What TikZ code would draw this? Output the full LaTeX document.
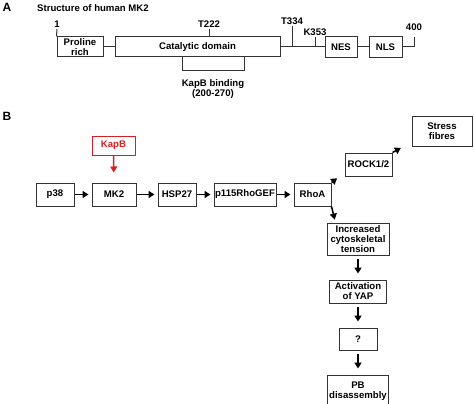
\documentclass[tikz,border=0pt]{standalone}
\usepackage{fontspec}
\setmainfont{Liberation Sans}
\usetikzlibrary{arrows.meta, positioning, calc}
\newcommand{\boxheight}{23pt}
\newcommand{\hgap}{17pt}
\newcommand{\vgap}{24pt}
\definecolor{kapbred}{RGB}{220,30,30}
\tikzstyle{domainbox} = [% protein domain box
  rectangle,
  minimum height=20pt,
  inner sep=0.5pt,
  text centered,
  align=center,
  draw=black!80,
  line width=1pt,
  font=\fontsize{9.6}{9.6}\selectfont\bfseries
  ]
\tikzstyle{stepbox} = [% pathway box
  rectangle,
  minimum height=\boxheight,
  inner sep=0.5pt,
  text centered,
  align=center,
  draw=black!80,
  line width=1pt,
  font=\fontsize{9.6}{10}\selectfont\bfseries
  ]
\tikzstyle{site} = [% residue label
  inner sep=1pt,
  font=\fontsize{9.6}{10.5}\selectfont\bfseries
  ]
\tikzstyle{link} = [% backbone line
  line width=1pt,
  draw=black!80
  ]
\tikzstyle{arrow} = [% arrow format
  line width=1.5pt,
  -{Triangle[length=6pt,width=7pt]},
  shorten >=3pt
  ]

\begin{document}
\begin{tikzpicture}[x=1pt, y=-1pt, node distance=\hgap]
\useasboundingbox (0,0) rectangle (474,404);

%%% Panel A
\node[font=\fontsize{12}{12}\selectfont\bfseries] (labA) at (7,7) {A};
\node[site, anchor=west] (title) at (36,8) {Structure of human MK2};

\node[domainbox, minimum width=46pt] (proline) at (80,47) {Proline\\rich};
\node[domainbox, minimum width=165pt] (catalytic) at (197.5,47) {Catalytic domain};
\node[domainbox, minimum width=32pt, minimum height=21pt] (nes) at (341,47) {NES};
\node[domainbox, minimum width=33pt, minimum height=21pt] (nls) at (385.5,47) {NLS};

\coordinate (start) at (57,29);
\coordinate (t222) at (209,29);
\coordinate (t334) at (292,26);
\coordinate (k353) at (315,37);
\coordinate (end) at (414,37);
\coordinate (kapbL) at (182,71);
\coordinate (kapbR) at (244,71);

\draw[link] (proline) -- (catalytic);
\draw[link] (catalytic.east) -- (nes.west);
\draw[link] (nes) -- (nls);
\draw[link] (nls.east) -- (nls.east -| end) -- (end);
\draw[link] (proline.north west) -- (start);
\draw[link] (catalytic.north -| t222) -- (t222);
\draw[link] (catalytic.east -| t334) -- (t334);
\draw[link] (catalytic.east -| k353) -- (k353);
\draw[link] (catalytic.south -| kapbL) -- (kapbL) -- (kapbR) -- (catalytic.south -| kapbR);

\node[site, above] (n1) at (start) {1};
\node[site, above] (nT222) at (t222) {T222};
\node[site, above] (nT334) at (t334) {T334};
\node[site, above] (nK353) at (k353) {K353};
\node[site, above] (n400) at ([yshift=5pt]end) {400};
\node[site, align=center, below] (kapbtext) at ([yshift=-7pt]$(kapbL)!0.5!(kapbR)$) {KapB binding\\(200-270)};

%%% Panel B
\node[font=\fontsize{12}{12}\selectfont\bfseries] (labB) at (7,116) {B};

\node[stepbox, minimum width=38pt] (p38) at (55,194.5) {p38};
\node[stepbox, minimum width=44pt] (mk2) [right=\hgap of p38] {MK2};
\node[stepbox, minimum width=38pt] (hsp27) [right=21pt of mk2] {HSP27};
\node[stepbox, minimum width=62pt] (gef) [right=\hgap of hsp27] {p115RhoGEF};
\node[stepbox, minimum width=37pt] (rhoa) [right=\hgap of gef] {RhoA};
\node[stepbox, minimum width=47pt] (rock) at (368.5,164.5) {ROCK1/2};
\node[stepbox, minimum width=60pt, minimum height=30pt] (stress) at (442,131) {Stress\\fibres};
\node[stepbox, minimum width=62pt, minimum height=32pt] (tension) at (358,239) {Increased\\cytoskeletal\\tension};
\node[stepbox, minimum width=57pt] (yap) [below=\vgap of tension] {Activation\\of YAP};
\node[stepbox, minimum width=38pt, minimum height=22pt] (unknown) [below=\vgap of yap] {?};
\node[stepbox, minimum width=61pt, minimum height=32pt] (pb) [below=\vgap of unknown] {PB\\disassembly};
\node[stepbox, minimum width=43pt, minimum height=19pt, draw=kapbred, text=kapbred] (kapb) at (113.5,145.5) {KapB};

%%% Arrows
\draw[arrow] (p38) -- (mk2);
\draw[arrow] (mk2) -- (hsp27);
\draw[arrow] (hsp27) -- (gef);
\draw[arrow] (gef) -- (rhoa);
\draw[arrow] (rhoa.north east) -- ([xshift=-5pt]rock.south west);
\draw[arrow] (rock.north east) -- ([xshift=-8pt]stress.south west);
\draw[arrow] (rhoa.south east) -- ([xshift=9pt]tension.north west);
\draw[arrow, shorten <=3pt, shorten >=6pt] (tension) -- (yap);
\draw[arrow, shorten <=3pt, shorten >=6pt] (yap) -- (unknown);
\draw[arrow, shorten <=3pt, shorten >=6pt] (unknown) -- (pb);
\draw[arrow, draw=kapbred, fill=kapbred, shorten >=10pt] (kapb) -- (mk2);

\end{tikzpicture}
\end{document}
